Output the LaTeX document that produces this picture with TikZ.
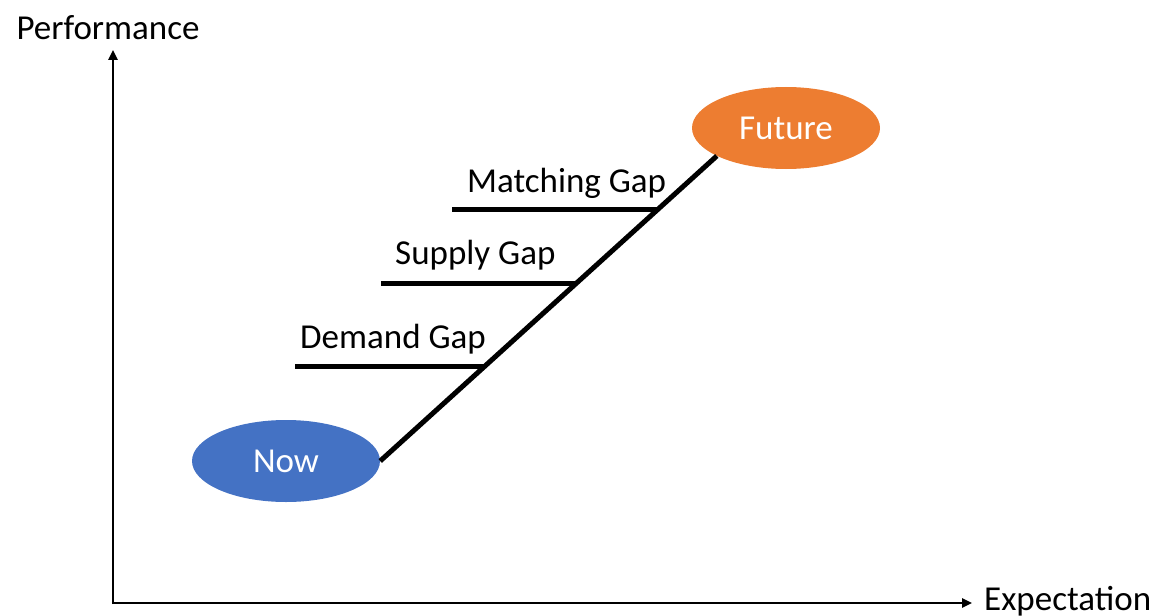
\documentclass[tikz,border=0pt]{standalone}
\usepackage{fontspec}
\setmainfont{Carlito}
\usetikzlibrary{shapes.geometric,arrows.meta,calc}
\definecolor{nowblue}{HTML}{4472C4}
\definecolor{futureorange}{HTML}{ED7D31}
\begin{document}
\begin{tikzpicture}[x=1pt,y=-1pt,
  every node/.style={font=\fontsize{35}{42}\selectfont},
  axis/.style={line width=2.4pt,-{Triangle[length=10pt,width=9pt]}},
  stage/.style={ellipse,minimum width=188pt,minimum height=82pt,inner sep=0pt,text=white},
  gapline/.style={line width=5pt},
  gaplabel/.style={anchor=base west,inner sep=0pt}]
  \useasboundingbox (0,0) rectangle (1155,615);
  % axes
  \coordinate (origin) at (113,603);
  \coordinate (ytip) at (113,50);
  \coordinate (xtip) at (972,603);
  \draw[axis] ([yshift=-1.2pt]origin) -- (ytip);
  \draw[axis] ([xshift=-1.2pt]origin) -- (xtip);
  \node[anchor=base,inner sep=0pt] (ylab) at (108,40) {Performance};
  \node[anchor=base west,inner sep=0pt] (xlab) at (984,610) {Expectation};
  % stages
  \node[stage,fill=nowblue] (now) at (286,461) {Now};
  \node[stage,fill=futureorange] (future) at (786,128) {Future};
  % path between the stages
  \draw[gapline] (now.east) -- (future.202);
  % gaps branching off the path
  \coordinate (dg) at ($(now.east)!0.3115!(future.202)$);
  \coordinate (sg) at ($(now.east)!0.5836!(future.202)$);
  \coordinate (mg) at ($(now.east)!0.826!(future.202)$);
  \coordinate (dgL) at (295,366);
  \coordinate (sgL) at (381,283);
  \coordinate (mgL) at (452,209);
  \draw[gapline] (dgL) -- (dgL -| dg);
  \draw[gapline] (sgL) -- (sgL -| sg);
  \draw[gapline] (mgL) -- (mgL -| mg);
  \node[gaplabel] (dglab) at (300,348) {Demand Gap};
  \node[gaplabel] (sglab) at (395,264) {Supply Gap};
  \node[gaplabel] (mglab) at (467,192) {Matching Gap};
\end{tikzpicture}
\end{document}
